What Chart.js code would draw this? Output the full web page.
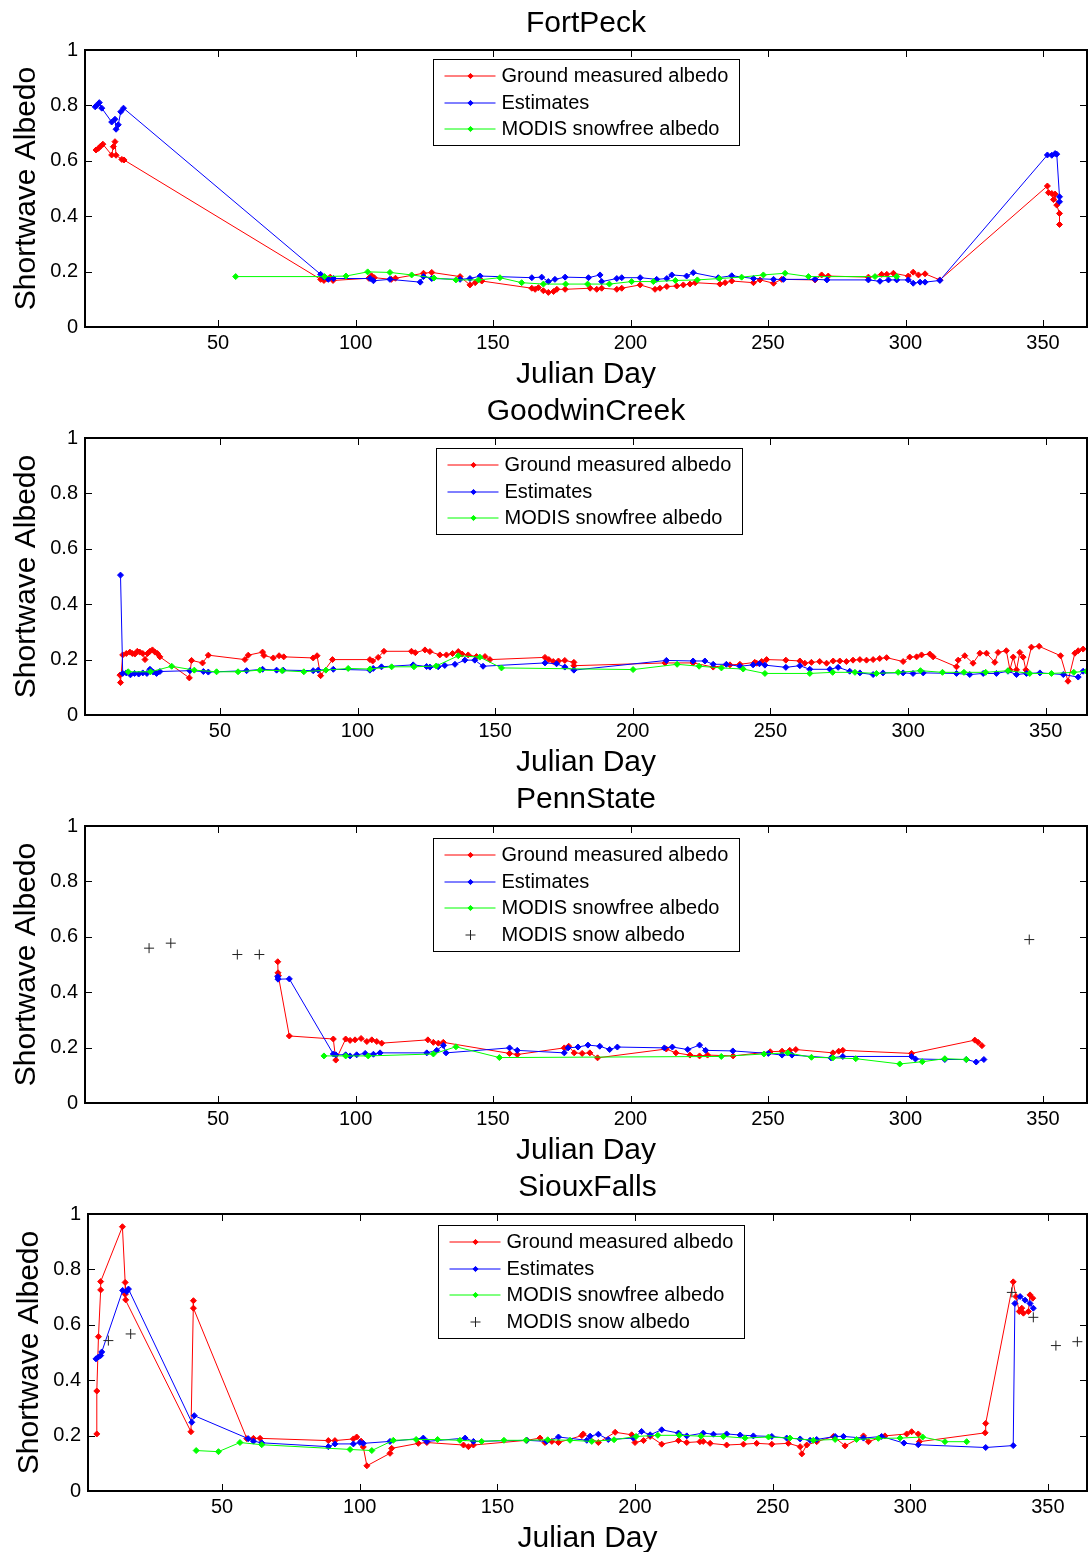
<!DOCTYPE html>
<html>
<head>
<meta charset="utf-8">
<title>Shortwave albedo</title>
<script src="https://cdn.jsdelivr.net/npm/chart.js@4.4.0/dist/chart.umd.min.js"></script>
<style>
  body { margin: 0; background: #fff; }
  canvas { display: block; }
</style>
</head>
<body>
<canvas id="c1" width="1090" height="388"></canvas>
<canvas id="c2" width="1090" height="388"></canvas>
<canvas id="c3" width="1090" height="388"></canvas>
<canvas id="c4" width="1090" height="388"></canvas>
<script>
// tick labels and series names
const xTickValues = [50, 100, 150, 200, 250, 300, 350];
const yTickValues = [0, 0.2, 0.4, 0.6, 0.8, 1];
const seriesLabels = ["Ground measured albedo", "Estimates", "MODIS snowfree albedo", "MODIS snow albedo"];
const siteNames = ["FortPeck", "GoodwinCreek", "PennState", "SiouxFalls"];

// FortPeck
const fpGroundDay = [5.6, 6.5, 7.3, 8.1, 11.3, 11.9, 12.5, 12.9, 15.0, 15.8, 87.3, 88.5, 89.5, 90.8, 91.8, 104.8, 105.8, 106.8, 113.0, 114.5, 124.7, 127.7, 138.0, 141.6, 143.5, 145.9, 164.1, 165.3, 166.5, 168.3, 170.1, 172.0, 173.2, 176.2, 185.3, 187.7, 189.5, 195.0, 196.8, 203.5, 208.9, 210.7, 213.2, 216.8, 219.2, 221.6, 223.5, 232.5, 234.4, 236.8, 244.7, 247.1, 252.0, 255.0, 267.1, 269.5, 271.9, 286.5, 291.3, 293.2, 295.6, 301.0, 302.8, 304.7, 307.1, 312.5, 351.6, 352.0, 353.2, 353.8, 354.4, 355.0, 356.0, 356.0];
const fpGroundAlb = [0.639, 0.645, 0.653, 0.660, 0.621, 0.651, 0.669, 0.620, 0.605, 0.603, 0.172, 0.168, 0.175, 0.180, 0.168, 0.176, 0.185, 0.178, 0.172, 0.176, 0.194, 0.197, 0.182, 0.152, 0.160, 0.166, 0.140, 0.136, 0.142, 0.131, 0.125, 0.128, 0.136, 0.136, 0.140, 0.136, 0.140, 0.136, 0.140, 0.152, 0.136, 0.140, 0.146, 0.148, 0.152, 0.155, 0.160, 0.155, 0.160, 0.166, 0.160, 0.170, 0.158, 0.172, 0.170, 0.188, 0.184, 0.180, 0.190, 0.190, 0.194, 0.184, 0.198, 0.188, 0.192, 0.170, 0.509, 0.485, 0.482, 0.460, 0.480, 0.440, 0.410, 0.370];
const fpEstDay = [5.3, 5.9, 6.8, 7.7, 11.3, 12.5, 12.9, 13.7, 14.6, 15.6, 87.3, 88.5, 90.1, 92.0, 105.3, 106.5, 112.5, 123.5, 124.7, 127.7, 138.0, 141.6, 145.3, 164.1, 167.7, 170.1, 172.5, 176.2, 184.7, 188.9, 189.5, 195.0, 196.8, 203.5, 209.5, 213.2, 215.0, 220.4, 222.8, 231.9, 236.8, 244.7, 252.0, 255.6, 267.1, 271.4, 286.5, 290.7, 293.8, 296.8, 301.0, 302.8, 305.3, 307.1, 312.5, 351.6, 353.2, 354.4, 355.0, 356.0, 356.0];
const fpEstAlb = [0.795, 0.800, 0.810, 0.790, 0.740, 0.750, 0.714, 0.730, 0.777, 0.790, 0.190, 0.180, 0.172, 0.175, 0.175, 0.167, 0.172, 0.162, 0.182, 0.175, 0.172, 0.175, 0.184, 0.178, 0.180, 0.164, 0.172, 0.180, 0.178, 0.188, 0.164, 0.175, 0.178, 0.178, 0.172, 0.175, 0.188, 0.184, 0.196, 0.178, 0.185, 0.175, 0.172, 0.172, 0.172, 0.170, 0.170, 0.165, 0.170, 0.170, 0.170, 0.158, 0.162, 0.162, 0.168, 0.621, 0.620, 0.626, 0.624, 0.470, 0.452];
const fpModisDay = [56.4, 88.7, 96.5, 104.4, 112.5, 120.4, 128.5, 136.5, 144.7, 152.5, 160.4, 168.3, 176.4, 184.4, 192.3, 200.4, 208.3, 216.3, 224.3, 232.3, 240.4, 248.3, 256.2, 264.7, 288.9, 296.8];
const fpModisAlb = [0.182, 0.182, 0.184, 0.199, 0.197, 0.188, 0.177, 0.170, 0.170, 0.178, 0.160, 0.155, 0.155, 0.155, 0.155, 0.164, 0.164, 0.168, 0.170, 0.175, 0.180, 0.188, 0.194, 0.182, 0.182, 0.182];

// GoodwinCreek
const gcGroundDay = [13.7, 13.9, 14.7, 16.0, 17.3, 18.2, 19.1, 20.0, 20.9, 22.0, 22.8, 23.7, 24.6, 25.5, 26.4, 27.3, 28.2, 38.9, 39.7, 43.7, 45.8, 59.1, 60.3, 65.5, 66.0, 69.4, 71.5, 73.2, 83.9, 85.3, 86.6, 90.9, 104.5, 105.5, 107.5, 109.6, 119.6, 121.0, 124.5, 126.3, 129.9, 132.3, 134.5, 136.6, 138.0, 140.2, 143.2, 146.3, 148.1, 168.1, 169.5, 171.1, 173.0, 175.3, 178.6, 178.6, 211.7, 221.9, 229.2, 235.3, 238.9, 244.3, 245.0, 246.8, 248.6, 255.6, 260.7, 262.5, 264.9, 267.9, 270.4, 272.8, 275.2, 277.6, 280.0, 282.5, 284.9, 287.3, 289.7, 292.2, 298.2, 300.6, 303.1, 304.9, 307.9, 309.1, 317.6, 318.2, 320.6, 323.6, 326.1, 328.5, 331.5, 332.7, 335.7, 337.0, 338.2, 339.4, 340.6, 341.8, 342.8, 344.8, 347.6, 355.4, 358.1, 360.6, 361.8, 363.6];
const gcGroundAlb = [0.144, 0.117, 0.217, 0.222, 0.227, 0.222, 0.220, 0.230, 0.227, 0.222, 0.200, 0.222, 0.230, 0.235, 0.227, 0.222, 0.210, 0.134, 0.197, 0.188, 0.216, 0.200, 0.216, 0.227, 0.215, 0.206, 0.214, 0.210, 0.206, 0.214, 0.142, 0.200, 0.200, 0.195, 0.208, 0.230, 0.230, 0.225, 0.235, 0.229, 0.217, 0.217, 0.222, 0.229, 0.220, 0.217, 0.211, 0.211, 0.200, 0.208, 0.200, 0.193, 0.195, 0.197, 0.190, 0.178, 0.188, 0.188, 0.173, 0.181, 0.183, 0.190, 0.187, 0.193, 0.200, 0.198, 0.195, 0.187, 0.190, 0.193, 0.187, 0.195, 0.195, 0.193, 0.198, 0.200, 0.198, 0.200, 0.204, 0.207, 0.193, 0.209, 0.210, 0.217, 0.220, 0.210, 0.174, 0.198, 0.214, 0.187, 0.223, 0.223, 0.190, 0.226, 0.232, 0.163, 0.209, 0.163, 0.226, 0.209, 0.163, 0.245, 0.248, 0.214, 0.122, 0.223, 0.232, 0.238];
const gcEstDay = [13.9, 14.7, 16.0, 17.5, 19.0, 20.5, 22.0, 23.5, 24.6, 25.8, 27.0, 28.2, 39.1, 44.0, 45.8, 59.7, 65.5, 70.6, 73.0, 83.9, 85.7, 91.2, 104.5, 105.7, 108.7, 120.2, 125.1, 126.3, 129.3, 131.7, 135.4, 139.0, 142.6, 145.6, 168.1, 172.3, 175.3, 178.6, 212.2, 221.9, 226.2, 229.2, 234.0, 238.9, 243.7, 246.0, 248.0, 255.6, 260.7, 264.3, 271.6, 274.6, 278.8, 282.5, 287.3, 290.9, 298.2, 301.8, 305.5, 317.6, 322.4, 327.3, 332.1, 336.3, 339.4, 343.0, 347.9, 356.4, 361.8, 363.6];
const gcEstAlb = [0.505, 0.150, 0.152, 0.145, 0.150, 0.148, 0.152, 0.150, 0.165, 0.155, 0.150, 0.157, 0.160, 0.157, 0.155, 0.160, 0.165, 0.162, 0.162, 0.160, 0.162, 0.165, 0.162, 0.168, 0.174, 0.181, 0.175, 0.173, 0.174, 0.179, 0.183, 0.198, 0.198, 0.176, 0.188, 0.185, 0.173, 0.162, 0.197, 0.195, 0.195, 0.183, 0.183, 0.176, 0.181, 0.185, 0.180, 0.172, 0.178, 0.165, 0.165, 0.172, 0.158, 0.152, 0.146, 0.152, 0.152, 0.150, 0.152, 0.150, 0.146, 0.150, 0.150, 0.158, 0.146, 0.150, 0.152, 0.146, 0.137, 0.158];
const gcModisDay = [16.7, 24.8, 32.5, 40.7, 48.8, 56.6, 64.5, 72.6, 80.5, 88.5, 96.6, 104.5, 112.4, 120.5, 128.6, 136.6, 144.4, 152.3, 200.1, 216.1, 224.1, 232.2, 240.1, 248.0, 264.3, 272.6, 280.7, 288.5, 296.4, 304.5, 312.5, 320.3, 328.2, 336.3, 344.2, 352.1, 360.2, 364.8];
const gcModisAlb = [0.156, 0.156, 0.176, 0.162, 0.156, 0.156, 0.162, 0.160, 0.156, 0.162, 0.168, 0.166, 0.174, 0.174, 0.177, 0.214, 0.209, 0.170, 0.164, 0.183, 0.176, 0.170, 0.166, 0.150, 0.150, 0.154, 0.154, 0.150, 0.154, 0.160, 0.154, 0.154, 0.154, 0.160, 0.150, 0.150, 0.154, 0.158];

// PennState
const psGroundDay = [71.7, 71.8, 71.9, 75.9, 91.9, 92.8, 96.4, 98.0, 99.8, 102.0, 104.1, 105.9, 107.7, 109.5, 126.3, 128.3, 130.1, 131.9, 156.0, 158.8, 175.9, 177.5, 179.5, 182.4, 185.2, 188.0, 213.0, 216.5, 221.6, 225.1, 228.0, 237.3, 250.8, 255.1, 257.9, 260.1, 273.6, 275.7, 277.2, 302.2, 325.2, 326.4, 327.8];
const psGroundAlb = [0.510, 0.470, 0.460, 0.242, 0.231, 0.155, 0.231, 0.226, 0.228, 0.233, 0.222, 0.228, 0.222, 0.216, 0.228, 0.219, 0.216, 0.219, 0.179, 0.175, 0.199, 0.205, 0.181, 0.179, 0.181, 0.163, 0.195, 0.181, 0.173, 0.170, 0.173, 0.170, 0.185, 0.187, 0.190, 0.193, 0.181, 0.187, 0.190, 0.179, 0.227, 0.219, 0.207];
const psEstDay = [71.7, 71.8, 75.9, 91.9, 92.8, 96.4, 98.0, 100.4, 103.5, 106.5, 108.9, 125.9, 129.5, 131.9, 132.9, 156.0, 158.8, 175.9, 177.3, 180.9, 184.5, 188.8, 192.4, 195.2, 212.3, 215.2, 220.8, 225.1, 227.3, 237.2, 250.1, 255.1, 258.7, 272.9, 277.2, 302.2, 303.6, 314.3, 322.1, 325.7, 328.5];
const psEstAlb = [0.456, 0.447, 0.448, 0.177, 0.174, 0.174, 0.170, 0.174, 0.179, 0.176, 0.181, 0.181, 0.190, 0.208, 0.181, 0.199, 0.190, 0.181, 0.199, 0.202, 0.209, 0.205, 0.193, 0.202, 0.199, 0.202, 0.193, 0.209, 0.190, 0.188, 0.179, 0.173, 0.173, 0.163, 0.168, 0.168, 0.159, 0.157, 0.157, 0.148, 0.157];
const psModisDay = [88.5, 96.4, 104.6, 128.3, 136.5, 152.3, 233.0, 248.5, 257.2, 265.8, 273.6, 281.9, 297.9, 306.1, 314.3, 322.1];
const psModisAlb = [0.170, 0.170, 0.170, 0.177, 0.203, 0.164, 0.168, 0.177, 0.181, 0.165, 0.163, 0.160, 0.141, 0.149, 0.160, 0.157];
const psSnowDay = [24.9, 32.8, 57.0, 65.0, 345.0];
const psSnowAlb = [0.559, 0.577, 0.536, 0.536, 0.590];

// SiouxFalls
const sfGroundDay = [4.5, 4.5, 5.1, 5.9, 5.9, 13.8, 14.8, 14.8, 15.0, 38.7, 39.6, 39.6, 59.0, 61.4, 63.8, 88.6, 91.0, 97.7, 98.9, 100.5, 101.3, 102.6, 111.0, 111.6, 121.3, 124.4, 137.7, 139.5, 141.3, 160.7, 165.5, 167.3, 169.8, 172.2, 180.7, 181.2, 186.7, 192.8, 198.8, 200.0, 203.1, 205.5, 209.7, 215.8, 218.8, 223.6, 224.8, 227.3, 233.3, 239.4, 244.2, 249.7, 255.7, 260.0, 260.6, 262.4, 266.0, 272.1, 276.3, 283.0, 284.8, 290.8, 298.7, 300.5, 302.9, 303.3, 327.2, 327.4, 337.4, 338.4, 339.6, 340.5, 341.1, 342.9, 343.5, 344.5];
const sfGroundAlb = [0.206, 0.361, 0.557, 0.726, 0.756, 0.954, 0.753, 0.710, 0.690, 0.214, 0.687, 0.660, 0.189, 0.190, 0.190, 0.182, 0.182, 0.188, 0.195, 0.180, 0.159, 0.091, 0.136, 0.154, 0.172, 0.175, 0.166, 0.160, 0.166, 0.183, 0.191, 0.175, 0.179, 0.175, 0.200, 0.206, 0.175, 0.212, 0.203, 0.175, 0.182, 0.197, 0.169, 0.182, 0.175, 0.178, 0.179, 0.172, 0.166, 0.169, 0.172, 0.169, 0.172, 0.160, 0.134, 0.166, 0.178, 0.197, 0.163, 0.199, 0.178, 0.199, 0.206, 0.214, 0.206, 0.178, 0.210, 0.244, 0.755, 0.702, 0.648, 0.660, 0.642, 0.648, 0.708, 0.696];
const sfEstDay = [4.2, 5.1, 5.9, 6.3, 13.9, 15.4, 16.0, 39.0, 39.9, 59.5, 61.4, 64.4, 88.6, 91.0, 97.7, 100.1, 101.3, 111.0, 123.1, 124.4, 138.3, 141.3, 160.7, 167.9, 172.2, 182.5, 183.7, 186.7, 190.3, 199.4, 202.4, 205.5, 209.7, 215.8, 218.8, 224.8, 228.5, 233.3, 238.2, 243.0, 249.7, 255.1, 260.0, 263.6, 266.0, 272.7, 275.7, 283.0, 289.6, 297.7, 302.9, 327.4, 337.4, 338.0, 339.9, 341.7, 343.5, 344.7];
const sfEstAlb = [0.477, 0.484, 0.489, 0.502, 0.724, 0.720, 0.729, 0.248, 0.272, 0.189, 0.180, 0.174, 0.160, 0.170, 0.170, 0.175, 0.172, 0.179, 0.191, 0.179, 0.191, 0.179, 0.183, 0.179, 0.195, 0.183, 0.198, 0.205, 0.186, 0.191, 0.215, 0.203, 0.221, 0.209, 0.199, 0.209, 0.205, 0.206, 0.202, 0.199, 0.197, 0.191, 0.188, 0.183, 0.186, 0.197, 0.197, 0.191, 0.197, 0.173, 0.167, 0.157, 0.164, 0.677, 0.702, 0.689, 0.677, 0.660];
const sfModisDay = [40.6, 48.7, 56.5, 64.4, 96.5, 104.4, 112.2, 120.5, 128.3, 136.4, 144.3, 152.4, 160.4, 168.3, 176.4, 184.3, 192.4, 200.4, 208.3, 216.1, 224.0, 232.1, 240.0, 248.5, 256.3, 264.8, 272.7, 280.5, 288.4, 296.3, 304.5, 312.6, 320.5];
const sfModisAlb = [0.146, 0.142, 0.175, 0.167, 0.150, 0.146, 0.183, 0.186, 0.186, 0.183, 0.179, 0.183, 0.183, 0.185, 0.183, 0.179, 0.185, 0.197, 0.201, 0.201, 0.198, 0.197, 0.191, 0.195, 0.191, 0.183, 0.186, 0.186, 0.190, 0.191, 0.195, 0.178, 0.178];
const sfSnowDay = [8.7, 16.8, 336.9, 344.7, 352.9, 360.7];
const sfSnowAlb = [0.543, 0.567, 0.717, 0.627, 0.525, 0.539];

const FONT = "'Liberation Sans', Arial, Helvetica, sans-serif";
const RED = "#ff0000", BLUE = "#0000ff", GREEN = "#00ff00", SNOW = "#222222";

Chart.defaults.color = "#000";
Chart.defaults.font.family = FONT;

function pts(days, vals) {
  return days.map((d, i) => ({ x: d, y: vals[i] }));
}

function lineSet(label, color, days, vals, order) {
  return {
    label: label,
    data: pts(days, vals),
    borderColor: color,
    backgroundColor: color,
    borderWidth: 1,
    pointStyle: "rectRot",
    pointRadius: 3,
    pointBorderWidth: 1,
    pointHoverRadius: 3,
    tension: 0,
    order: order
  };
}

function snowSet(days, vals) {
  return {
    label: seriesLabels[3],
    data: pts(days, vals),
    showLine: false,
    borderColor: SNOW,
    backgroundColor: SNOW,
    pointStyle: "cross",
    pointRadius: 5,
    pointBorderWidth: 1,
    order: 0
  };
}

// MATLAB-like box with inward ticks on all four sides
const boxTicks = {
  id: "boxTicks",
  afterDraw(chart) {
    const { ctx, chartArea: a, scales } = chart;
    const x = scales.x, y = scales.y;
    ctx.save();
    ctx.strokeStyle = "#000";
    ctx.lineWidth = 1;
    ctx.beginPath();
    x.ticks.forEach(t => {
      const px = Math.round(x.getPixelForValue(t.value)) + 0.5;
      ctx.moveTo(px, a.bottom); ctx.lineTo(px, a.bottom - 7);
      ctx.moveTo(px, a.top); ctx.lineTo(px, a.top + 7);
    });
    y.ticks.forEach(t => {
      const py = Math.round(y.getPixelForValue(t.value)) + 0.5;
      ctx.moveTo(a.left, py); ctx.lineTo(a.left + 7, py);
      ctx.moveTo(a.right, py); ctx.lineTo(a.right - 7, py);
    });
    ctx.stroke();
    ctx.lineWidth = 2;
    ctx.strokeRect(a.left, a.top, a.right - a.left, a.bottom - a.top);
    ctx.restore();
  }
};

// legend box inside the axes, like MATLAB's
const boxLegend = {
  id: "boxLegend",
  afterDraw(chart, args, opts) {
    const ctx = chart.ctx;
    const sets = chart.data.datasets;
    ctx.save();
    ctx.font = "20px " + FONT;
    const textW = Math.max(...sets.map(s => ctx.measureText(s.label).width));
    const x = Math.round(chart.chartArea.left + opts.left) + 0.5;
    const y = Math.round(chart.chartArea.top + opts.top) + 0.5;
    const w = Math.round(68 + textW + 11);
    const h = Math.round(33 + (sets.length - 1) * 26.5);
    ctx.fillStyle = "#fff";
    ctx.fillRect(x, y, w, h);
    ctx.strokeStyle = "#000";
    ctx.lineWidth = 1;
    ctx.strokeRect(x, y, w, h);
    sets.forEach((s, i) => {
      const ry = Math.round(y + 16.5 + i * 26.5);
      const mx = x + 37;
      ctx.strokeStyle = s.borderColor;
      ctx.fillStyle = s.backgroundColor;
      ctx.lineWidth = 1;
      ctx.beginPath();
      if (s.showLine !== false) {
        ctx.moveTo(x + 11, ry); ctx.lineTo(x + 62, ry);
        ctx.stroke();
        ctx.beginPath();
        ctx.moveTo(mx, ry - 2.6); ctx.lineTo(mx + 2.6, ry);
        ctx.lineTo(mx, ry + 2.6); ctx.lineTo(mx - 2.6, ry);
        ctx.closePath();
        ctx.fill();
        ctx.stroke();
      } else {
        ctx.moveTo(mx - 5, ry); ctx.lineTo(mx + 5, ry);
        ctx.moveTo(mx, ry - 5); ctx.lineTo(mx, ry + 5);
        ctx.stroke();
      }
      ctx.fillStyle = "#000";
      ctx.textBaseline = "middle";
      ctx.textAlign = "left";
      ctx.fillText(s.label, x + 68, ry);
    });
    ctx.restore();
  }
};

function makeChart(id, cfg) {
  return new Chart(document.getElementById(id), {
    type: "line",
    data: { datasets: cfg.sets },
    plugins: [boxTicks, boxLegend],
    options: {
      responsive: false,
      animation: false,
      devicePixelRatio: 1,
      layout: { autoPadding: false, padding: { right: 3 } },
      plugins: {
        legend: { display: false },
        tooltip: { enabled: false },
        title: {
          display: true,
          text: cfg.title,
          fullSize: false,
          color: "#000",
          font: { size: 30, weight: "normal", lineHeight: 1 },
          padding: { top: 9, bottom: 11 }
        },
        boxLegend: { left: cfg.legendLeft, top: cfg.legendTop }
      },
      scales: {
        x: {
          type: "linear",
          min: cfg.xMin,
          max: cfg.xMax,
          grid: { display: false, drawTicks: false },
          border: { display: false },
          afterBuildTicks: s => { s.ticks = xTickValues.map(v => ({ value: v })); },
          afterFit: s => { s.height = 61; },
          ticks: { font: { size: 20 }, padding: 4, maxRotation: 0, autoSkip: false },
          title: {
            display: true,
            text: "Julian Day",
            color: "#000",
            font: { size: 30, lineHeight: 0.8 },
            padding: { top: 0, bottom: 1 }
          }
        },
        y: {
          min: 0,
          max: 1,
          grid: { display: false, drawTicks: false },
          border: { display: false },
          afterBuildTicks: s => { s.ticks = yTickValues.map(v => ({ value: v })); },
          afterFit: s => { s.width = cfg.yWidth; },
          ticks: {
            font: { size: 20 },
            padding: 7,
            autoSkip: false,
            callback: v => String(Math.round(v * 10) / 10)
          },
          title: {
            display: true,
            text: "Shortwave Albedo",
            color: "#000",
            font: { size: 30, lineHeight: 1 },
            padding: { top: cfg.yTitlePad, bottom: 0 }
          }
        }
      }
    }
  });
}

makeChart("c1", {
  title: siteNames[0], xMin: 1.6, xMax: 366, yWidth: 85, yTitlePad: 12, legendLeft: 348, legendTop: 9,
  sets: [
    lineSet(seriesLabels[0], RED, fpGroundDay, fpGroundAlb, 3),
    lineSet(seriesLabels[1], BLUE, fpEstDay, fpEstAlb, 2),
    lineSet(seriesLabels[2], GREEN, fpModisDay, fpModisAlb, 1)
  ]
});

makeChart("c2", {
  title: siteNames[1], xMin: 1, xMax: 365, yWidth: 85, yTitlePad: 12, legendLeft: 351, legendTop: 10,
  sets: [
    lineSet(seriesLabels[0], RED, gcGroundDay, gcGroundAlb, 3),
    lineSet(seriesLabels[1], BLUE, gcEstDay, gcEstAlb, 2),
    lineSet(seriesLabels[2], GREEN, gcModisDay, gcModisAlb, 1)
  ]
});

makeChart("c3", {
  title: siteNames[2], xMin: 1.6, xMax: 366, yWidth: 85, yTitlePad: 12, legendLeft: 348, legendTop: 12,
  sets: [
    lineSet(seriesLabels[0], RED, psGroundDay, psGroundAlb, 3),
    lineSet(seriesLabels[1], BLUE, psEstDay, psEstAlb, 2),
    lineSet(seriesLabels[2], GREEN, psModisDay, psModisAlb, 1),
    snowSet(psSnowDay, psSnowAlb)
  ]
});

makeChart("c4", {
  title: siteNames[3], xMin: 1.3, xMax: 364.2, yWidth: 88, yTitlePad: 15, legendLeft: 350, legendTop: 11,
  sets: [
    lineSet(seriesLabels[0], RED, sfGroundDay, sfGroundAlb, 3),
    lineSet(seriesLabels[1], BLUE, sfEstDay, sfEstAlb, 2),
    lineSet(seriesLabels[2], GREEN, sfModisDay, sfModisAlb, 1),
    snowSet(sfSnowDay, sfSnowAlb)
  ]
});
</script>
</body>
</html>
